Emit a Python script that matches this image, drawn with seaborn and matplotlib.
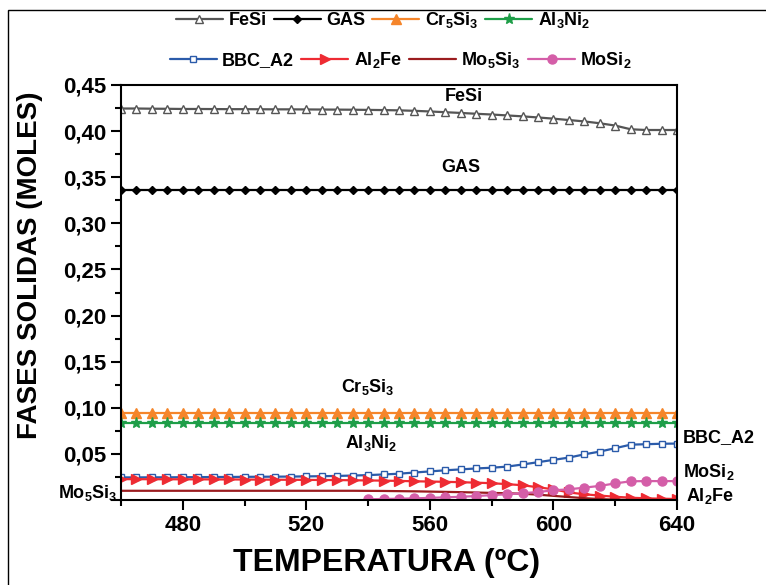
import numpy as np
import pandas as pd
import seaborn as sns
import matplotlib.pyplot as plt
from matplotlib.ticker import MultipleLocator, FuncFormatter
from matplotlib.patches import Rectangle

# temperatura (ºC)
temperatura = [460, 465, 470, 475, 480, 485, 490, 495, 500, 505, 510, 515, 520,
               525, 530, 535, 540, 545, 550, 555, 560, 565, 570, 575, 580, 585,
               590, 595, 600, 605, 610, 615, 620, 625, 630, 635, 640]

# fases solidas (moles)
fesi = [0.4245, 0.4245, 0.4243, 0.4242, 0.4240, 0.4240, 0.4239, 0.4238, 0.4238,
        0.4237, 0.4236, 0.4236, 0.4235, 0.4234, 0.4233, 0.4232, 0.4230, 0.4228,
        0.4225, 0.4220, 0.4213, 0.4205, 0.4197, 0.4188, 0.4180, 0.4170, 0.4160,
        0.4148, 0.4135, 0.4120, 0.4105, 0.4085, 0.4060, 0.4020, 0.4012, 0.4012,
        0.4012]
gas = [0.336] * 37
cr5si3 = [0.094] * 37
al3ni2 = [0.083] * 37
bbc_a2 = [0.0245, 0.0245, 0.0246, 0.0246, 0.0247, 0.0248, 0.0249, 0.0250, 0.0251,
          0.0252, 0.0253, 0.0254, 0.0256, 0.0258, 0.0261, 0.0265, 0.0270, 0.0277,
          0.0285, 0.0298, 0.0310, 0.0322, 0.0332, 0.0342, 0.0350, 0.0362, 0.0385,
          0.0410, 0.0435, 0.0460, 0.0495, 0.0525, 0.0562, 0.0600, 0.0605, 0.0610,
          0.0612]
al2fe = [0.0226, 0.0226, 0.0225, 0.0225, 0.0224, 0.0224, 0.0223, 0.0223, 0.0222,
         0.0221, 0.0220, 0.0219, 0.0218, 0.0217, 0.0216, 0.0214, 0.0212, 0.0210,
         0.0207, 0.0203, 0.0200, 0.0197, 0.0193, 0.0188, 0.0182, 0.0172, 0.0160,
         0.0138, 0.0116, 0.0082, 0.0062, 0.0048, 0.0035, 0.0025, 0.0018, 0.0014,
         0.0011]
mo5si3 = [0.0100, 0.0100, 0.0100, 0.0100, 0.0100, 0.0100, 0.0100, 0.0100, 0.0100,
          0.0100, 0.0100, 0.0100, 0.0100, 0.0100, 0.0100, 0.0100, 0.0099, 0.0098,
          0.0096, 0.0094, 0.0091, 0.0088, 0.0085, 0.0081, 0.0077, 0.0073, 0.0068,
          0.0058, 0.0045, 0.0032, 0.0020, 0.0010, 0.0004, 0.0001, 0.0, 0.0, 0.0]
mosi2 = [np.nan] * 16 + [0.0008, 0.0011, 0.0014, 0.0018, 0.0023, 0.0029, 0.0035,
                         0.0043, 0.0053, 0.0062, 0.0073, 0.0087, 0.0105, 0.0116,
                         0.0134, 0.0153, 0.0180, 0.0203, 0.0205, 0.0205, 0.0205]

df = pd.DataFrame({"T": temperatura, "FeSi": fesi, "GAS": gas, "Cr5Si3": cr5si3,
                   "Al3Ni2": al3ni2, "BBC_A2": bbc_a2, "Al2Fe": al2fe,
                   "Mo5Si3": mo5si3, "MoSi2": mosi2})

sns.set_style("ticks")
plt.rcParams['font.family'] = ['Liberation Sans', 'DejaVu Sans']
plt.rcParams['font.weight'] = 'bold'
plt.rcParams['text.color'] = 'black'
plt.rcParams['axes.labelcolor'] = 'black'
plt.rcParams['xtick.color'] = 'black'
plt.rcParams['ytick.color'] = 'black'
plt.rcParams['mathtext.fontset'] = 'custom'
plt.rcParams['mathtext.rm'] = 'Liberation Sans:bold'
plt.rcParams['mathtext.bf'] = 'Liberation Sans:bold'
plt.rcParams['mathtext.default'] = 'bf'

# column, legend label, color, marker, marker size, face color
styles = [
    ("FeSi", "FeSi", "#555555", "^", 6, "white"),
    ("GAS", "GAS", "black", "D", 4.5, "black"),
    ("Cr5Si3", "Cr$_5$Si$_3$", "#F5852A", "^", 7, "#F5852A"),
    ("Al3Ni2", "Al$_3$Ni$_2$", "#1E9E48", "*", 8, "#1E9E48"),
    ("BBC_A2", "BBC_A2", "#2B5BAA", "s", 5, "white"),
    ("Al2Fe", "Al$_2$Fe", "#EE2B33", ">", 7, "#EE2B33"),
    ("Mo5Si3", "Mo$_5$Si$_3$", "#9B1C1F", None, 0, "none"),
    ("MoSi2", "MoSi$_2$", "#D45EA8", "o", 6.5, "#D45EA8"),
]

fig = plt.figure(figsize=(7.66, 5.85), dpi=100)
ax = fig.add_axes([121 / 766, 1 - 500 / 585, 556 / 766, 415 / 585])

for col, label, color, marker, ms, face in styles:
    sns.lineplot(data=df, x="T", y=col, ax=ax, color=color, marker=marker,
                 markersize=ms, markerfacecolor=face, markeredgecolor=color,
                 markeredgewidth=1, linewidth=1.6, label=label, legend=False)

ax.set_xlim(460, 640)
ax.set_ylim(0, 0.45)
ax.set_xticks([480, 520, 560, 600, 640])
ax.xaxis.set_minor_locator(MultipleLocator(20))
ax.yaxis.set_major_locator(MultipleLocator(0.05))
ax.yaxis.set_minor_locator(MultipleLocator(0.025))
# sin etiqueta en 0
ax.yaxis.set_major_formatter(FuncFormatter(
    lambda v, p: "" if abs(v) < 1e-9 else f"{v:.2f}".replace(".", ",")))
ax.tick_params(which="major", direction="out", length=7, width=1.5, labelsize=16)
ax.tick_params(which="minor", direction="out", length=4, width=1.5)
for s in ax.spines.values():
    s.set_linewidth(1.5)
    s.set_color("black")
ax.set_xlabel("")
ax.set_ylabel("")

fig.text(387 / 766, 1 - 563 / 585, "TEMPERATURA (ºC)", ha="center", va="center",
         fontsize=23, fontweight="bold")
fig.text(30 / 766, 1 - 265 / 585, "FASES SOLIDAS (MOLES)", ha="center", va="center",
         rotation=90, fontsize=20, fontweight="bold")

# etiquetas de las curvas
tk = dict(fontsize=13, fontweight="bold", va="center")
ax.text(571, 0.437, "FeSi", ha="center", **tk)
ax.text(570, 0.361, "GAS", ha="center", **tk)
ax.text(540, 0.123, "Cr$_5$Si$_3$", ha="center", **tk)
ax.text(541, 0.062, "Al$_3$Ni$_2$", ha="center", **tk)
ax.text(642, 0.0674, "BBC_A2", ha="left", **tk)
ax.text(642, 0.030, "MoSi$_2$", ha="left", **tk)
ax.text(643, 0.004, "Al$_2$Fe", ha="left", **tk)
ax.text(459, 0.008, "Mo$_5$Si$_3$", ha="right", **tk)

handles, labels = ax.get_legend_handles_labels()
lk = dict(loc="center", ncol=4, frameon=False, fontsize=13, handlelength=2.6,
          handletextpad=0.3, columnspacing=0.4, borderpad=0)
fig.legend(handles[:4], labels[:4], bbox_to_anchor=(383 / 766, 1 - 20 / 585), **lk)
fig.legend(handles[4:], labels[4:], bbox_to_anchor=(401 / 766, 1 - 60 / 585), **lk)

# marco exterior
fig.patches.append(Rectangle((8 / 766, -0.05), 1.2, 1.05 - 10 / 585, fill=False,
                             lw=1, edgecolor="black", transform=fig.transFigure))

fig.savefig("out.png", dpi=100)
